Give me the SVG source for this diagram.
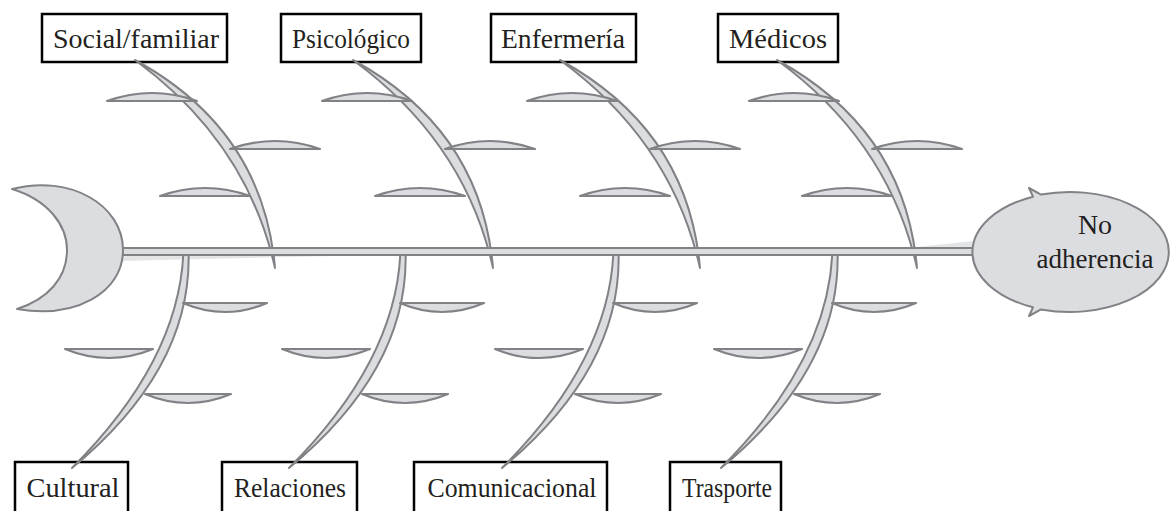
<svg xmlns="http://www.w3.org/2000/svg" width="1170" height="511" viewBox="0 0 1170 511">
<style>
.box{fill:#fff;stroke:#000;stroke-width:2.5}
.lbl{font-family:"Liberation Serif","Times New Roman",serif;font-size:28px;fill:#231f20;text-anchor:middle}
.bone{fill:#dcdde0;stroke:#808285;stroke-width:2;stroke-linejoin:round}
.sub{fill:#dcdde0;stroke:#808285;stroke-width:2.2;stroke-linejoin:round}
</style>
<defs>
<g id="topBone">
<path class="bone" d="M135,60 Q263,130 275,268 Q247,142 135,60 Z"/>
</g>
<g id="topSubs">
<path class="sub" d="M107,101 L197,101 Q152,85 107,101 Z"/>
<path class="sub" d="M230,149 L320,149 Q275,133 230,149 Z"/>
<path class="sub" d="M160,196 L250,196 Q205,180 160,196 Z"/>
</g>
<g id="botBone">
<path class="bone" d="M183.5,250 Q180,360 72,468 Q193,368 188.5,250 Z"/>
</g>
<g id="botSubs">
<path class="sub" d="M183,303 L267,303 Q225,321 183,303 Z"/>
<path class="sub" d="M65,349 L153,349 Q109,367 65,349 Z"/>
<path class="sub" d="M145,394 L231,394 Q188,412 145,394 Z"/>
</g>
</defs>

<g id="label-social"><rect class="box" x="42" y="14" width="185" height="48"/><text class="lbl" x="136" y="48" textLength="166" lengthAdjust="spacingAndGlyphs">Social/familiar</text></g>
<g id="label-psicologico"><rect class="box" x="281" y="14" width="140" height="48"/><text class="lbl" x="351" y="48" textLength="118" lengthAdjust="spacingAndGlyphs">Psicológico</text></g>
<g id="label-enfermeria"><rect class="box" x="491" y="14" width="145" height="48"/><text class="lbl" x="563" y="48" textLength="124" lengthAdjust="spacingAndGlyphs">Enfermería</text></g>
<g id="label-medicos"><rect class="box" x="718" y="14" width="120" height="48"/><text class="lbl" x="778" y="48" textLength="98" lengthAdjust="spacingAndGlyphs">Médicos</text></g>
<g id="label-cultural"><rect class="box" x="15" y="462" width="113" height="60"/><text class="lbl" x="73" y="497" textLength="93" lengthAdjust="spacingAndGlyphs">Cultural</text></g>
<g id="label-relaciones"><rect class="box" x="222" y="462" width="135" height="60"/><text class="lbl" x="290" y="497" textLength="112" lengthAdjust="spacingAndGlyphs">Relaciones</text></g>
<g id="label-comunicacional"><rect class="box" x="414" y="462" width="193" height="60"/><text class="lbl" x="512" y="497" textLength="169" lengthAdjust="spacingAndGlyphs">Comunicacional</text></g>
<g id="label-trasporte"><rect class="box" x="670" y="462" width="111" height="60"/><text class="lbl" x="727" y="497" textLength="90" lengthAdjust="spacingAndGlyphs">Trasporte</text></g>

<g id="connectors">
<polygon points="120,254 120,261 420,254" fill="#e4e5e7"/>
<polygon points="900,249 972,241 972,249" fill="#e4e5e7"/>
<use href="#topBone"/>
<use href="#topBone" x="218"/>
<use href="#topBone" x="425"/>
<use href="#topBone" x="642"/>
<use href="#topSubs"/>
<use href="#topSubs" x="215"/>
<use href="#topSubs" x="420"/>
<use href="#topSubs" x="642"/>
<use href="#botBone"/>
<use href="#botBone" x="217"/>
<use href="#botBone" x="430"/>
<use href="#botBone" x="649"/>
<use href="#botSubs"/>
<use href="#botSubs" x="217"/>
<use href="#botSubs" x="430"/>
<use href="#botSubs" x="649"/>
<rect x="115" y="248" width="862" height="7" fill="#dcdde0" stroke="#808285" stroke-width="2"/>
</g>

<g id="tail">
<path class="bone" d="M12,189 C70,174 123,205 123,250 C123,293 75,319 17,309 C48,299 67,278 67,250 C67,225 48,200 12,189 Z"/>
</g>

<g id="head">
<path class="bone" d="M1041,194.6 A99,60 0 1 1 1041,309.4 L1029,316 L1033,307.3 A99,60 0 0 1 1033,196.7 L1029,188 Z"/>
<text class="lbl" x="1095" y="234">No</text>
<text class="lbl" x="1095" y="268" textLength="117" lengthAdjust="spacingAndGlyphs">adherencia</text>
</g>
</svg>
